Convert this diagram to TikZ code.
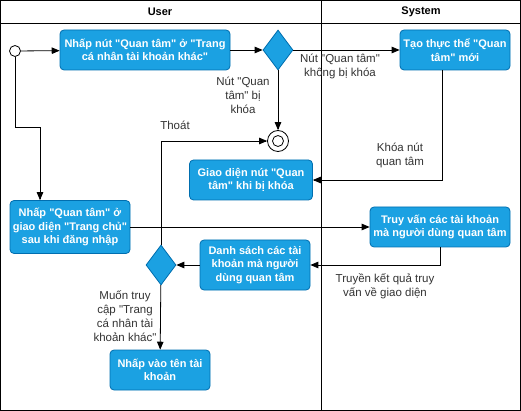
\documentclass[tikz,border=0pt]{standalone}
\usepackage{fontspec}
\setmainfont{Liberation Sans}
\usepackage{tikz}
\usetikzlibrary{arrows,automata,shapes.geometric}

\definecolor{actfill}{HTML}{1BA1E2}
\definecolor{actdraw}{HTML}{006EAF}
\newcommand{\dq}{\textquotedbl}

\begin{document}
\begin{tikzpicture}[x=1pt,y=-1pt,line width=0.8pt,>=triangle 45,
  activity/.style={draw=actdraw,fill=actfill,rounded corners=4pt,text=white,
    font=\fontsize{11}{13.5}\selectfont\bfseries,align=center,inner sep=1pt},
  choice/.style={draw=actdraw,fill=actfill,diamond,shape aspect=0.75,
    minimum width=30pt,minimum height=40pt,inner sep=0pt},
  guard/.style={font=\fontsize{11.5}{14}\selectfont,text=black!80,align=center,fill=white,inner sep=1pt},
  lanetitle/.style={font=\fontsize{11}{13}\selectfont\bfseries}]
\useasboundingbox (0,0) rectangle (521,411);

% swimlanes
\draw (0.5,0.5) rectangle (520.5,410.5);
\draw (0.5,23) -- (520.5,23);
\draw (321,0.5) -- (321,410.5);
\draw (160,12) node (laneU) [lanetitle] {User};
\draw (421,12) node (laneS) [lanetitle] {System};

% initial and final states
\draw (15,51)  node (start) [circle,draw,fill=white,minimum size=11pt,inner sep=0pt] {};
\draw (278,141) node (stop) [circle,draw,fill=white,minimum size=21pt,inner sep=0pt] {};
\draw (278,141) node (stopin) [circle,draw,minimum size=11pt,inner sep=0pt] {};

% activities
\draw (145,50)  node (A) [activity,minimum width=170pt,minimum height=40pt] {Nhấp nút \dq{}Quan tâm\dq{} ở \dq{}Trang\\cá nhân tài khoản khác\dq};
\draw (455,50)  node (B) [activity,minimum width=110pt,minimum height=40pt] {Tạo thực thể \dq{}Quan\\tâm\dq{} mới};
\draw (251,180) node (C) [activity,minimum width=123pt,minimum height=40pt] {Giao diện nút \dq{}Quan\\tâm\dq{} khi bị khóa};
\draw (70,227)  node (E) [activity,minimum width=120pt,minimum height=53pt] {Nhấp \dq{}Quan tâm\dq{} ở\\giao diện \dq{}Trang chủ\dq\\sau khi đăng nhập};
\draw (440,227) node (F) [activity,minimum width=140pt,minimum height=40pt] {Truy vấn các tài khoản\\mà người dùng quan tâm};
\draw (255,265) node (G) [activity,minimum width=110pt,minimum height=50pt] {Danh sách các tài\\khoản mà người\\dùng quan tâm};
\draw (160,370) node (H) [activity,minimum width=100pt,minimum height=40pt] {Nhấp vào tên tài\\khoản};

% decisions
\draw (278,50)  node (D1) [choice] {};
\draw (161,265) node (D2) [choice] {};

% flows
\coordinate (bend1) at (40,127);
\draw[->] (start) -- (A);
\draw[->] (start) |- (bend1) -- (bend1 |- E.north);
\draw[->] (A) -- (D1);
\draw[->] (D1) -- (B);
\draw[->] (D1) -- (stop);
\draw[->] ([xshift=-13pt]B.south) |- (C.east);
\draw[->] (E) -- (F);
\draw[->] (F.south) |- (G.east);
\draw[->] (G) -- (D2);
\draw[->] (D2.north) |- (stop.west);
\draw[->] (D2) -- (H);

% guards
\draw (340,66)  node (g1) [guard,fill=none] {Nút \dq{}Quan tâm\dq\\không bị khóa};
\draw (243,95)  node (g2) [guard] {Nút \dq{}Quan\\tâm\dq{} bị\\khóa};
\draw (400,155) node (g3) [guard] {Khóa nút\\quan tâm};
\draw (175,125) node (g4) [guard] {Thoát};
\draw (385,286) node (g5) [guard] {Truyền kết quả truy\\vấn về giao diện};
\draw (125,316) node (g6) [guard,fill=none] {Muốn truy\\cập \dq{}Trang\\cá nhân tài\\khoản khác\dq};

\end{tikzpicture}
\end{document}
